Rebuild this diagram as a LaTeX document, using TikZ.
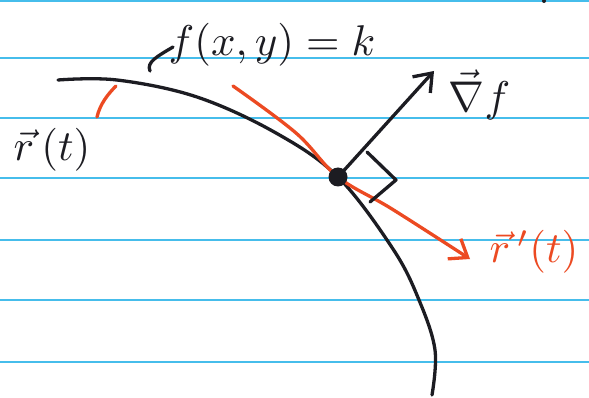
\documentclass[tikz,border=0pt]{standalone}
\usetikzlibrary{arrows.meta,calc}
\definecolor{inkblack}{HTML}{1C1C22}
\definecolor{inkred}{HTML}{EC4A22}
\definecolor{ruleblue}{HTML}{46BDEB}

\begin{document}
\begin{tikzpicture}[x=1pt,y=-1pt,
  ruling/.style={ruleblue,line width=1.5pt},
  pen/.style={line width=3.3pt,line cap=round,line join=round},
  barb/.style={-{Straight Barb[length=16pt,width=24pt,line width=3.3pt]}},
  hand/.style={inner sep=0pt,scale=4.3}
]
\useasboundingbox (0,0) rectangle (589,398);
\fill[white] (0,0) rectangle (589,398);

% ruled paper
\foreach \yy in {1,58,118,178,240,300,362}
  \draw[ruling] (0,\yy) -- (589,\yy);
\fill[inkblack] (544,1) circle (2pt);

% level curve f(x,y)=k
\draw[pen,inkblack] plot[smooth,tension=0.6] coordinates
  {(58,80) (117,80) (197,97) (276,133) (338,177) (393,249) (419,300) (435,350) (432,395)};

% tangent vector r'(t)
\coordinate (tanstart) at (233,86);
\coordinate (tantip) at (470,259);
\draw[pen,inkred,barb] plot[smooth,tension=0.6] coordinates
  {(tanstart) (296,133) (338,177) (392,209) (tantip)};

% point on the curve
\node[circle,fill=inkblack,minimum size=19pt,inner sep=0pt] (pt) at (338,177) {};

% gradient
\coordinate (gradtip) at (434,71);
\draw[pen,inkblack,barb] (pt.center) -- (gradtip);

% right angle
\draw[pen,inkblack] (367,152) -- (396,180) -- (370,202);

% small marks
\draw[pen,inkblack] (173,47) .. controls (158,56) and (146,62) .. (150,71);
\draw[pen,inkred] (97,117) .. controls (100,104) and (108,94) .. (116,86);

% labels
\node[hand,text=inkblack] (levellbl) at (272,45) {$f(x,y)=k$};
\node[hand,text=inkblack] (rlbl) at (52,150) {$\vec r\,(t)$};
\node[hand,text=inkblack,anchor=west] (gradlbl) at (448,95) {$\vec\nabla f$};
\node[hand,text=inkred] (tanlbl) at (534,252) {$\vec r\,'(t)$};
\end{tikzpicture}
\end{document}
